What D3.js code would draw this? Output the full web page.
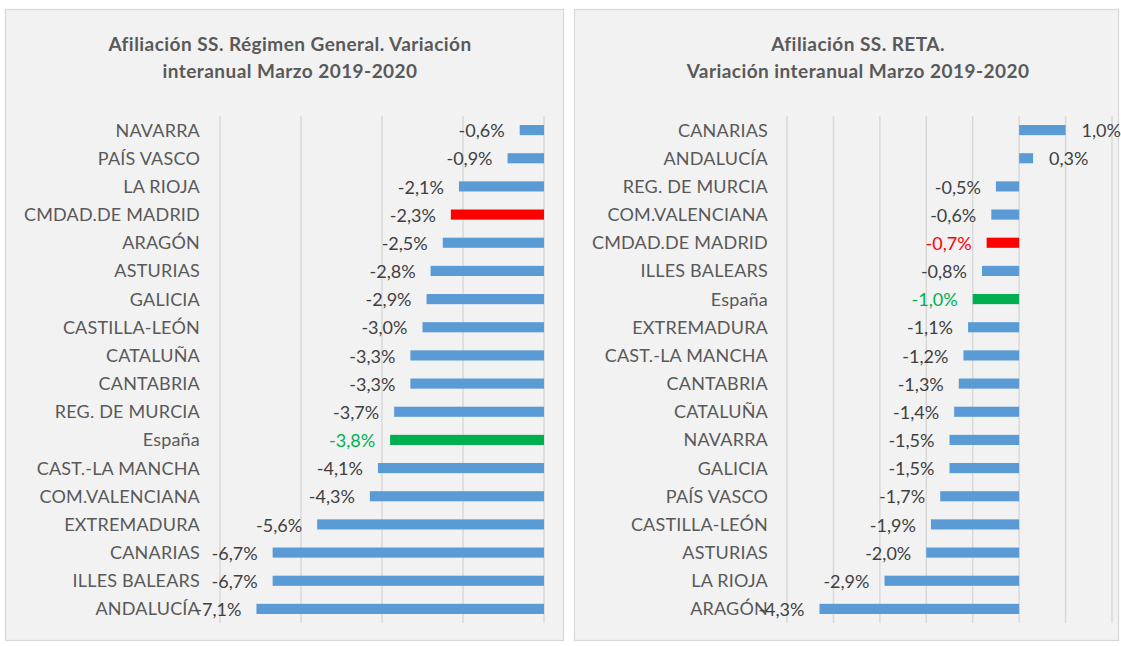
<!DOCTYPE html>
<html>
<head>
<meta charset="utf-8">
<script src="https://cdn.jsdelivr.net/npm/d3@7"></script>
<style>
  body { margin: 0; background: #fff; }
  svg { display: block; font-family: Lato, "Noto Sans", sans-serif; }
</style>
</head>
<body>
<svg id="chart" width="1121" height="646"></svg>
<script>
// data

var leftTitle = ["Afiliación SS. Régimen General. Variación", "interanual Marzo 2019-2020"];
var leftCats = ["NAVARRA", "PAÍS VASCO", "LA RIOJA", "CMDAD.DE MADRID", "ARAGÓN", "ASTURIAS",
  "GALICIA", "CASTILLA-LEÓN", "CATALUÑA", "CANTABRIA", "REG. DE MURCIA", "España",
  "CAST.-LA MANCHA", "COM.VALENCIANA", "EXTREMADURA", "CANARIAS", "ILLES BALEARS", "ANDALUCÍA"];
var leftVals = [-0.6, -0.9, -2.1, -2.3, -2.5, -2.8, -2.9, -3.0, -3.3, -3.3, -3.7, -3.8,
  -4.1, -4.3, -5.6, -6.7, -6.7, -7.1];
var leftTicks = [-8, -6, -4, -2, 0];

var rightTitle = ["Afiliación SS. RETA.", "Variación interanual Marzo 2019-2020"];
var rightCats = ["CANARIAS", "ANDALUCÍA", "REG. DE MURCIA", "COM.VALENCIANA", "CMDAD.DE MADRID",
  "ILLES BALEARS", "España", "EXTREMADURA", "CAST.-LA MANCHA", "CANTABRIA", "CATALUÑA",
  "NAVARRA", "GALICIA", "PAÍS VASCO", "CASTILLA-LEÓN", "ASTURIAS", "LA RIOJA", "ARAGÓN"];
var rightVals = [1.0, 0.3, -0.5, -0.6, -0.7, -0.8, -1.0, -1.1, -1.2, -1.3, -1.4, -1.5,
  -1.5, -1.7, -1.9, -2.0, -2.9, -4.3];
var rightTicks = [-5, -4, -3, -2, -1, 0, 1, 2];

var svg = d3.select("#chart");

function barColor(cat) {
  if (cat == "España") return "#00b050";
  if (cat == "CMDAD.DE MADRID") return "#ff0000";
  return "#5b9bd5";
}

function drawPanel(opt) {
  var g = svg.append("g");

  // panel box
  g.append("rect")
    .attr("x", opt.box[0] + 0.5).attr("y", opt.box[1] + 0.5)
    .attr("width", opt.box[2]).attr("height", opt.box[3])
    .attr("fill", "#f2f2f2").attr("stroke", "#d9d9d9").attr("stroke-width", 1.3);

  // title
  g.append("text")
    .attr("x", opt.titleX).attr("y", 51)
    .attr("text-anchor", "middle")
    .attr("font-weight", "bold").attr("font-size", 19).attr("fill", "#595959")
    .attr("letter-spacing", 0.45)
    .selectAll("tspan")
    .data(opt.title)
    .enter().append("tspan")
      .attr("x", opt.titleX)
      .attr("dy", function(d, i) { return i ? 27 : 0; })
      .text(function(d) { return d; });

  var x = d3.scaleLinear().domain(opt.domain).range(opt.xRange);
  var y = d3.scaleBand().domain(opt.cats).range([116, 623])
    .paddingInner(0.64).paddingOuter(0.32);

  // vertical gridlines
  g.selectAll(".grid")
    .data(opt.ticks)
    .enter().append("line")
      .attr("x1", function(d) { return x(d); })
      .attr("x2", function(d) { return x(d); })
      .attr("y1", 116).attr("y2", 623)
      .attr("stroke", "#d9d9d9").attr("stroke-width", 1.5);

  var rows = opt.cats.map(function(c, i) { return {cat: c, value: opt.vals[i]}; });

  g.selectAll(".bar")
    .data(rows)
    .enter().append("rect")
      .attr("x", function(d) { return x(Math.min(0, d.value)); })
      .attr("y", function(d) { return y(d.cat); })
      .attr("width", function(d) { return Math.abs(x(d.value) - x(0)); })
      .attr("height", y.bandwidth())
      .attr("fill", function(d) { return barColor(d.cat); });

  // category labels
  g.selectAll(".cat")
    .data(rows)
    .enter().append("text")
      .attr("x", opt.catX)
      .attr("y", function(d) { return y(d.cat) + y.bandwidth() / 2; })
      .attr("dy", "0.36em")
      .attr("text-anchor", "end")
      .attr("font-size", 18).attr("letter-spacing", 0.2).attr("fill", "#595959")
      .text(function(d) { return d.cat; });

  // value labels
  g.selectAll(".val")
    .data(rows)
    .enter().append("text")
      .attr("x", function(d) { return d.value < 0 ? x(d.value) - 15 : x(d.value) + 16; })
      .attr("y", function(d) { return y(d.cat) + y.bandwidth() / 2; })
      .attr("dy", "0.4em")
      .attr("text-anchor", function(d) { return d.value < 0 ? "end" : "start"; })
      .attr("font-size", 18)
      .attr("fill", function(d) {
        if (d.cat == "España") return "#00b050";
        if (d.cat == "CMDAD.DE MADRID" && opt.redLabel) return "#ff0000";
        return "#404040";
      })
      .text(function(d) { return d.value.toFixed(1).replace(".", ",") + "%"; });
}

drawPanel({
  box: [5, 9, 558, 631], titleX: 290, title: leftTitle,
  cats: leftCats, vals: leftVals, ticks: leftTicks,
  domain: [-8, 0], xRange: [220, 544], catX: 200, redLabel: false
});

drawPanel({
  box: [574, 9, 544, 631], titleX: 858, title: rightTitle,
  cats: rightCats, vals: rightVals, ticks: rightTicks,
  domain: [-5, 2], xRange: [787, 1112], catX: 768, redLabel: true
});
</script>
</body>
</html>
